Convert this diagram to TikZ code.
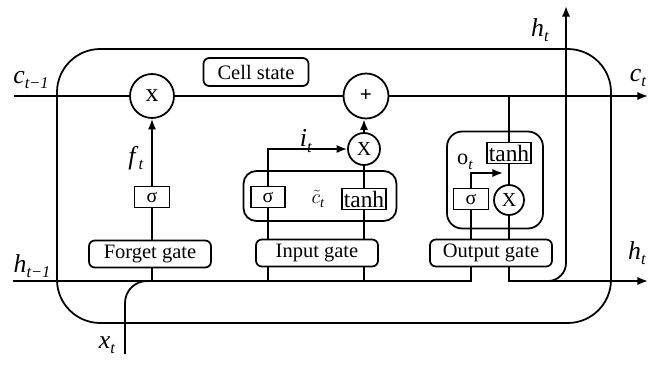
\documentclass[tikz,border=0pt]{standalone}
\usepackage{fontspec}
\setmainfont{Liberation Serif}
\usetikzlibrary{arrows.meta,positioning}
\newcommand{\varlbl}[2]{\textit{#1}\raisebox{-0.45ex}{\fontsize{14}{15}\selectfont\textit{#2}}}
\tikzset{
  basic/.style  = {draw, line width=1.5pt, fill=white},
  gate/.style   = {basic, rounded corners=5pt, minimum width=3.66cm, minimum height=0.81cm, font=\fontsize{17.5}{19}\selectfont},
  layer/.style  = {basic, rectangle, minimum height=0.63cm, inner sep=1.5pt, font=\fontsize{17}{18}\selectfont},
  act/.style    = {layer, font=\fontsize{20}{21}\selectfont, inner ysep=1pt},
  op/.style     = {basic, circle, inner sep=0pt, font=\fontsize{17}{18}\selectfont},
  group/.style  = {draw, line width=1.5pt, rounded corners=11pt},
  var/.style    = {font=\fontsize{22}{24}\selectfont, inner sep=1pt}
}

\begin{document}
\begin{tikzpicture}[x=0.03cm, y=-0.03cm, line width=1.5pt, >={Latex[length=9pt,width=7pt]}]
\useasboundingbox (0,0) rectangle (648,365);

% outer frame of the cell
\node [draw, rounded corners=1.3cm, minimum width=16.62cm, minimum height=8.22cm] (cell) at (334,186) {};

% free ends of the state lines
\coordinate (cin) at (14,96);
\coordinate (cout) at (648,96);
\coordinate (hin) at (13,281);
\coordinate (hout) at (648,281);
\coordinate (xin) at (125,354);
\coordinate (htop) at (566,6);

% cell state
\node [op, minimum size=1.32cm, font=\fontsize{22}{24}\selectfont] (fx) at (152,96) {x};
\node [op, minimum size=1.35cm, font=\bfseries\fontsize{18}{20}\selectfont] (add) at (366,96) {+};
\node [gate, minimum width=3.15cm, minimum height=0.84cm] (cs) at (256,72) {Cell state};

% forget gate
\node [layer, minimum width=1.05cm] (fsig) at (152,197) {σ};
\node [gate] (fgate) at (150,254) {Forget gate};

% input gate
\node [group, minimum width=4.59cm, minimum height=1.5cm] (igrp) at (320,196) {};
\node [layer, minimum width=1.02cm] (isig) at (268,197) {σ};
\node [act] (itanh) at (364,199) {$\tanh$};
\node [op, minimum size=0.96cm] (ix) at (364,149) {X};
\node [gate] (igate) at (317,253) {Input gate};

% output gate
\node [group, rounded corners=13pt, minimum width=2.88cm, minimum height=2.91cm] (ogrp) at (495,180) {};
\node [act] (otanh) at (509,153) {$\tanh$};
\node [op, minimum size=0.9cm] (ox) at (509,200) {X};
\node [layer, minimum width=1.05cm] (osig) at (471,199) {σ};
\node [gate] (ogate) at (491,253) {Output gate};
\coordinate (oend) at (503,173);

% labels
\node [var] (lc0) at (31,80) {\varlbl{c}{t−1}};
\node [var] (lc1) at (638,78) {\varlbl{c}{t}};
\node [var] (lh0) at (32,266) {\varlbl{h}{t−1}};
\node [var] (lh1) at (637,253) {\varlbl{h}{t}};
\node [var] (lht) at (540,30) {\varlbl{h}{t}};
\node [var] (lx) at (107,345) {\varlbl{x}{t}};
\node [var] (lf) at (136,158) {\varlbl{f}{t}};
\node [var] (li) at (306,141) {\varlbl{i}{t}};
\node [var, font=\fontsize{18}{20}\selectfont] (lct) at (318,199) {$\tilde{c}$\raisebox{-0.45ex}{\fontsize{12}{13}\selectfont\textit{t}}};
\node [var, font=\fontsize{19}{20}\selectfont] (lo) at (465,162) {o\raisebox{-0.45ex}{\fontsize{13}{14}\selectfont\textit{t}}};

% cell state line
\draw (cin) -- (fx.west);
\draw (fx.east) -- (add.west);
\draw[->] (add.east) -- (cout);

% hidden state line and input
\draw (hin) -| (osig |- ogate.south);
\draw[rounded corners=0.66cm] (xin) |- (fsig |- hin);

% forget path
\draw (fsig |- hin) -- (fsig |- fgate.south);
\draw (fsig |- fgate.north) -- (fsig.south);
\draw[->] (fsig.north) -- (fx.south);

% input path
\foreach \n in {isig, itanh} {
  \draw (\n |- hin) -- (\n |- igate.south);
  \draw (\n |- igate.north) -- (\n.south);
}
\draw[->] (isig.north) |- (ix.west);
\draw (itanh.north) -- (ix.south);
\draw[->] (ix.north) -- (add.south -| ix);

% output path
\draw (osig |- ogate.north) -- (osig.south);
\draw[->] (osig.north) |- (oend);
\draw (otanh |- cin) -- (otanh.north);
\draw (otanh.south) -- (ox.north);
\draw (ox.south) -- (ox |- ogate.north);
\draw[->] (ox |- ogate.south) |- (hout);
\draw[->, rounded corners=0.54cm] (ox |- hin) -| (htop);

\end{tikzpicture}
\end{document}
